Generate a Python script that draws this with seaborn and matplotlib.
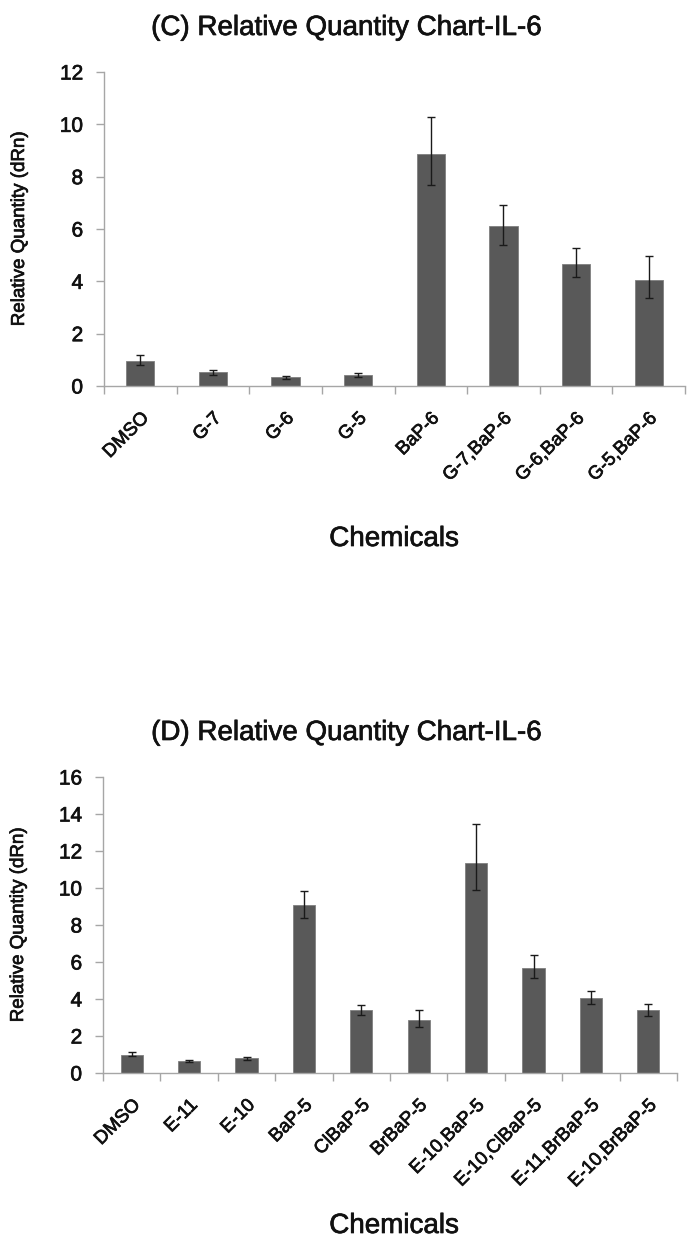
import matplotlib
matplotlib.use("Agg")
import matplotlib.pyplot as plt
import matplotlib.patheffects as pe
import seaborn as sns
import pandas as pd
import numpy as np
from matplotlib.ticker import FixedLocator

# ---- data ----
chem_c = ["DMSO", "G-7", "G-6", "G-5", "BaP-6", "G-7,BaP-6", "G-6,BaP-6", "G-5,BaP-6"]
val_c = [0.97, 0.52, 0.33, 0.43, 8.87, 6.10, 4.68, 4.05]
err_lo_c = [0.17, 0.10, 0.06, 0.07, 1.20, 0.72, 0.52, 0.68]
err_hi_c = [0.20, 0.11, 0.06, 0.08, 1.40, 0.80, 0.60, 0.90]

chem_d = ["DMSO", "E-11", "E-10", "BaP-5", "ClBaP-5", "BrBaP-5",
          "E-10,BaP-5", "E-10,ClBaP-5", "E-11,BrBaP-5", "E-10,BrBaP-5"]
val_d = [0.99, 0.64, 0.79, 9.08, 3.41, 2.87, 11.33, 5.68, 4.04, 3.41]
err_lo_d = [0.09, 0.05, 0.07, 0.68, 0.25, 0.36, 1.42, 0.55, 0.33, 0.31]
err_hi_d = [0.12, 0.06, 0.09, 0.76, 0.25, 0.54, 2.13, 0.68, 0.41, 0.34]

titles = ["(C) Relative Quantity Chart-IL-6", "(D) Relative Quantity Chart-IL-6"]
ylabel = "Relative Quantity (dRn)"
xlabel = "Chemicals"
ymax = [12, 16]

sns.set_theme(style="white")
plt.rcParams["font.family"] = ["Liberation Sans", "DejaVu Sans"]
txt_col = "#111111"
thick = [pe.withStroke(linewidth=0.5, foreground=txt_col)]

W, H = 687, 1243
fig = plt.figure(figsize=(W / 100, H / 100), dpi=100)

def px_axes(left, right, top, bottom):
    return fig.add_axes([left / W, 1 - bottom / H, (right - left) / W, (bottom - top) / H])

ax_c = px_axes(104, 685, 72, 386)
ax_d = px_axes(103, 677, 777, 1073)

spine_col = "#a6a6a6"
bar_col = "#595959"

panels = [
    (ax_c, chem_c, val_c, err_lo_c, err_hi_c, titles[0], ymax[0], 35, 539, 581),
    (ax_d, chem_d, val_d, err_lo_d, err_hi_d, titles[1], ymax[1], 740, 1226, 574),
]

for ax, chem, val, elo, ehi, title, ym, title_y, xl_y, axw in panels:
    df = pd.DataFrame({"Chemical": chem, "Value": val})
    sns.barplot(data=df, x="Chemical", y="Value", color=bar_col, width=0.39,
                saturation=1, errorbar=None, edgecolor="#7f7f7f", linewidth=0.6, ax=ax)
    ax.errorbar(np.arange(len(chem)), val, yerr=[elo, ehi], fmt="none",
                ecolor="#1a1a1a", elinewidth=1.0, capsize=3, capthick=1.0, zorder=5)
    n = len(chem)
    ax.set_xlim(-0.5, n - 0.5)
    ax.set_ylim(0, ym)
    ax.set_yticks(np.arange(0, ym + 0.1, 2))
    ax.set_yticklabels([str(int(v)) for v in np.arange(0, ym + 0.1, 2)], fontsize=15, color=txt_col)
    ax.xaxis.set_minor_locator(FixedLocator(np.arange(-0.5, n, 1.0)))
    ax.tick_params(axis="x", which="major", length=0, pad=17)
    ax.tick_params(axis="x", which="minor", length=6, width=1, color=spine_col, direction="out", bottom=True)
    ax.tick_params(axis="y", which="major", length=6, width=1, color=spine_col, direction="out", left=True, pad=9)
    ax.set_xticks(np.arange(n))
    ax.set_xticklabels(chem, rotation=45, ha="right", rotation_mode="anchor", fontsize=13.5, color=txt_col)
    for s in ["top", "right"]:
        ax.spines[s].set_visible(False)
    for s in ["left", "bottom"]:
        ax.spines[s].set_color(spine_col)
        ax.spines[s].set_linewidth(1.0)
    ax.set_xlabel("")
    ax.set_ylabel(ylabel, fontsize=13.5, color=txt_col)
    ax.yaxis.set_label_coords((28 - 104) / axw, 0.5)
    for t in ax.get_xticklabels() + ax.get_yticklabels() + [ax.yaxis.label]:
        t.set_path_effects(thick)
    fig.text(346 / W, 1 - title_y / H, title, fontsize=20, ha="center", va="baseline",
             color=txt_col, path_effects=thick)
    fig.text(394 / W, 1 - xl_y / H, xlabel, fontsize=20, ha="center", va="center",
             color=txt_col, path_effects=thick)

fig.savefig("out.png", dpi=100)
